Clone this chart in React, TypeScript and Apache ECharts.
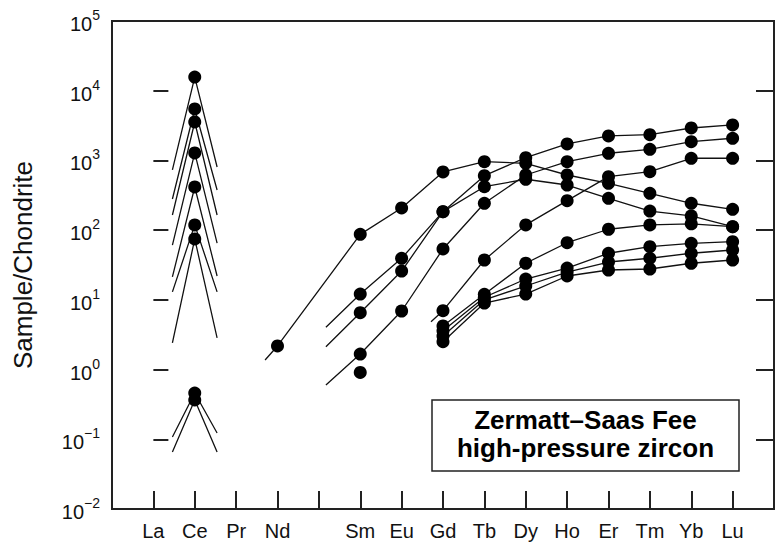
import React, { useEffect, useRef } from "react";
import * as echarts from "echarts";

// ---- axis categories (element order, Pm has no label) ----
const ELEMENTS = ["La", "Ce", "Pr", "Nd", "Pm", "Sm", "Eu", "Gd", "Tb", "Dy", "Ho", "Er", "Tm", "Yb", "Lu"];
const AXIS_LABELS = ["La", "Ce", "Pr", "Nd", "", "Sm", "Eu", "Gd", "Tb", "Dy", "Ho", "Er", "Tm", "Yb", "Lu"];
const Y_MIN = 0.01;
const Y_MAX = 100000;

// ---- Ce-only analyses (Ce value, projected La-side and Pr-side ends) ----
const CE_VALUES = [15700, 5470, 3560, 1280, 416, 119, 74.7, 0.461, 0.367];
const CE_LA_SIDE = [730, 280, 165, 61, 21.3, 13, 2.41, 0.108, 0.0658];
const CE_PR_SIDE = [805, 377, 165, 65, 22, 13, 2.84, 0.123, 0.0658];
const CE_SIDE_SPAN = 0.54; // element units

// ---- patterns, values from Nd (index 3) to Lu (index 14); null = not plotted ----
const PATTERN_A = [2.18, null, 87, 208, 683, 960, 910, 618, 470, 338, 243, 199];
const PATTERN_B = [null, null, 12.1, 39.5, 184, 604, 1095, 1722, 2244, 2340, 2920, 3230];
const PATTERN_C = [null, null, 6.55, 25.9, 184, 420, 537, 444, 286, 188, 160, 112];
const PATTERN_D = [null, null, 1.67, 6.92, 53.7, 243, 618, 960, 1267, 1445, 1857, 2080];
const PATTERN_E = [null, null, null, null, 7.0, 37.3, 119, 265, 585, 690, 1074, 1074];
const PATTERN_F = [null, null, null, null, 4.22, 12.0, 33.5, 66, 103, 119, 123, 112];
const PATTERN_G = [null, null, null, null, 3.61, 10.9, 19.9, 28.6, 46.6, 57.9, 64.8, 68.3];
const PATTERN_H = [null, null, null, null, 3.03, 10.0, 15.8, 25.0, 34.9, 39.5, 46.6, 51.9];
const PATTERN_I = [null, null, null, null, 2.51, 9.0, 12.1, 22.0, 26.8, 27.7, 33.5, 37.3];
const PATTERN_START = 3;

// projected lower-REE ends of some patterns [element index, value]
const TAIL_A = [2.7, 1.37];
const TAIL_B = [4.17, 4.04];
const TAIL_C = [4.17, 2.13];
const TAIL_D = [4.17, 0.6];
const TAIL_E = [6.71, 4.86];

// isolated Sm analysis
const SM_ONLY = [[5, 0.91]];

const FONT = "'Liberation Sans', Arial, Helvetica, sans-serif";
const INK = "#111";

function patternSeries(vals: (number | null)[], tail: number[] | null) {
  const data: any[] = [];
  if (tail) data.push({ value: tail, symbol: "none" });
  vals.forEach((v, i) => {
    if (v != null) data.push([PATTERN_START + i, v]);
  });
  return data;
}

export default function App() {
  const ref = useRef<HTMLDivElement>(null);
  useEffect(() => {
    if (!ref.current) return;
    const chart = echarts.init(ref.current, undefined, { renderer: "svg" });

    const lineBase = {
      type: "line",
      symbol: "circle",
      symbolSize: 13,
      itemStyle: { color: "#000", opacity: 1 },
      lineStyle: { color: INK, width: 1.3 },
      silent: true,
      z: 3,
    };

    const series: any[] = [];
    CE_VALUES.forEach((v, i) => {
      series.push({
        ...lineBase,
        data: [
          { value: [1 - CE_SIDE_SPAN, CE_LA_SIDE[i]], symbol: "none" },
          [1, v],
          { value: [1 + CE_SIDE_SPAN, CE_PR_SIDE[i]], symbol: "none" },
        ],
      });
    });
    const pats: [(number | null)[], number[] | null][] = [
      [PATTERN_A, TAIL_A],
      [PATTERN_B, TAIL_B],
      [PATTERN_C, TAIL_C],
      [PATTERN_D, TAIL_D],
      [PATTERN_E, TAIL_E],
      [PATTERN_F, null],
      [PATTERN_G, null],
      [PATTERN_H, null],
      [PATTERN_I, null],
    ];
    pats.forEach(([vals, tail]) => {
      series.push({ ...lineBase, data: patternSeries(vals, tail) });
    });
    series.push({
      type: "scatter",
      symbol: "circle",
      symbolSize: 13,
      itemStyle: { color: "#000", opacity: 1 },
      data: SM_ONLY,
      silent: true,
      z: 3,
    });

    const expLabel = (v: number) => {
      const e = Math.round(Math.log10(v));
      const s = e < 0 ? "\u2212" + -e : String(e);
      return `{b|10}{s|${s}}`;
    };

    chart.setOption({
      animation: false,
      backgroundColor: "#fff",
      grid: {
        left: 112,
        top: 21,
        width: 670,
        height: 488,
        show: true,
        borderColor: "#222",
        borderWidth: 2,
        backgroundColor: "transparent",
      },
      xAxis: {
        type: "value",
        min: -1,
        max: 15,
        interval: 1,
        axisLine: { show: false },
        splitLine: { show: false },
        axisTick: { show: true, inside: true, length: 18, lineStyle: { color: "#222", width: 2 } },
        axisLabel: {
          margin: 12,
          fontFamily: FONT,
          fontSize: 20,
          color: INK,
          formatter: (v: number) => AXIS_LABELS[v] ?? "",
        },
      },
      yAxis: [
        {
          type: "log",
          logBase: 10,
          min: Y_MIN,
          max: Y_MAX,
          splitNumber: 7,
          axisLine: { show: false },
          splitLine: { show: false },
          axisTick: { show: true, inside: true, length: 15, lineStyle: { color: "#222", width: 2 } },
          axisLabel: {
            margin: 12,
            formatter: expLabel,
            rich: {
              b: { fontFamily: FONT, fontSize: 20, color: INK, lineHeight: 26, verticalAlign: "bottom" },
              s: { fontFamily: FONT, fontSize: 14, color: INK, lineHeight: 14, verticalAlign: "top" },
            },
          },
        },
        {
          type: "log",
          logBase: 10,
          min: Y_MIN,
          max: Y_MAX,
          splitNumber: 7,
          position: "right",
          axisLine: { show: false },
          splitLine: { show: false },
          axisTick: { show: true, inside: true, length: 18, lineStyle: { color: "#222", width: 2 } },
          axisLabel: { show: false },
        },
      ],
      graphic: [
        {
          type: "text",
          x: 23,
          y: 265,
          rotation: Math.PI / 2,
          style: {
            text: "Sample/Chondrite",
            fontFamily: FONT,
            fontSize: 26,
            fill: INK,
            align: "center",
            verticalAlign: "middle",
          },
        },
        {
          type: "rect",
          shape: { x: 432, y: 400, width: 307, height: 71 },
          style: { fill: "#fff", stroke: "#222", lineWidth: 1.5 },
          z: 10,
        },
        {
          type: "text",
          x: 585.5,
          y: 420,
          z: 11,
          style: {
            text: "Zermatt\u2013Saas Fee",
            fontFamily: FONT,
            fontSize: 26,
            fontWeight: "bold",
            fill: "#000",
            align: "center",
            verticalAlign: "middle",
          },
        },
        {
          type: "text",
          x: 585.5,
          y: 447.5,
          z: 11,
          style: {
            text: "high-pressure zircon",
            fontFamily: FONT,
            fontSize: 26,
            fontWeight: "bold",
            fill: "#000",
            align: "center",
            verticalAlign: "middle",
          },
        },
      ],
      series,
    });
    return () => chart.dispose();
  }, []);

  return (
    <div
      ref={ref}
      style={{ position: "fixed", left: 0, top: 0, width: 777, height: 548, background: "#fff" }}
    />
  );
}
